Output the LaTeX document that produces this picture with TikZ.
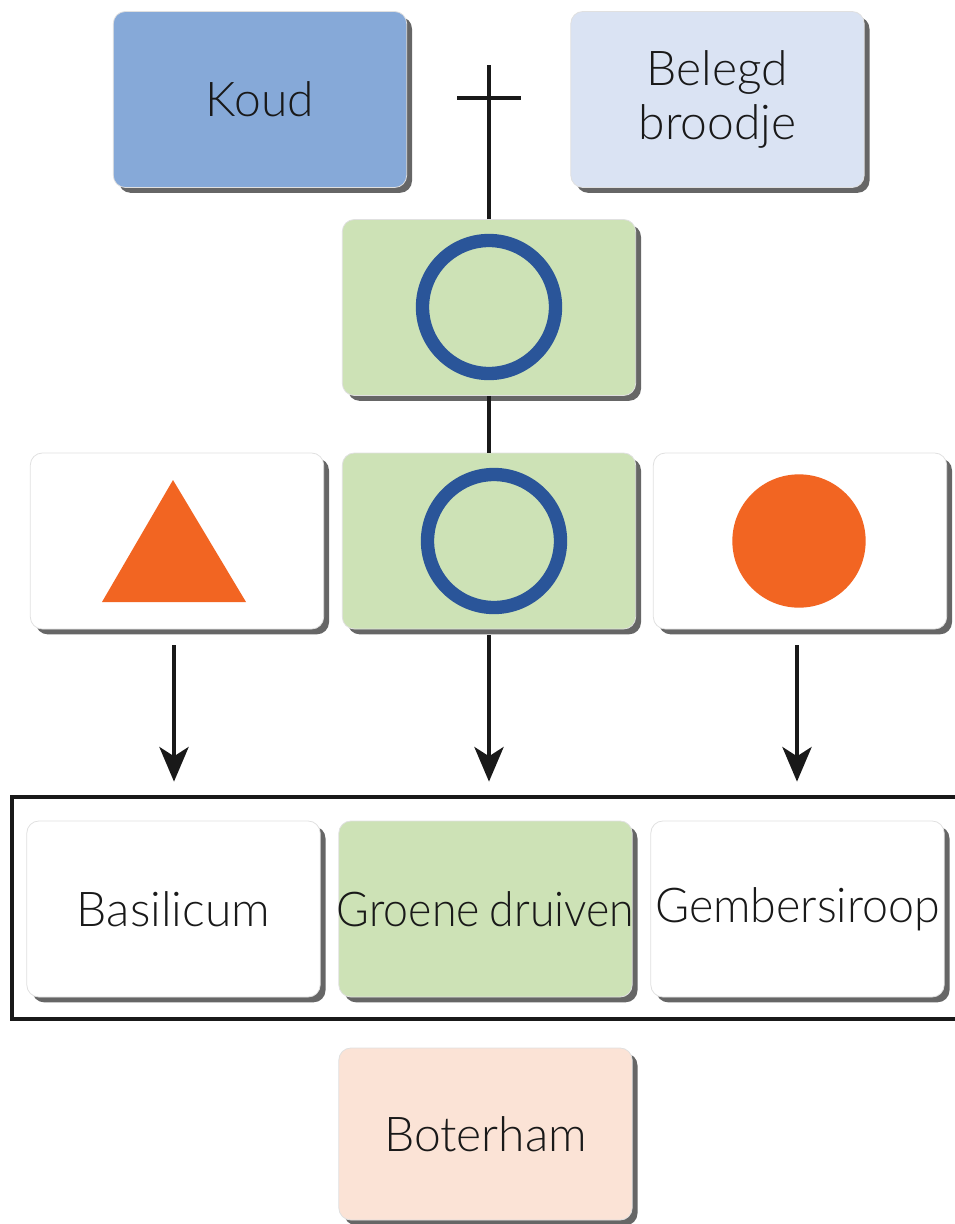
\documentclass[tikz,border=0pt]{standalone}
\usepackage{fontspec}
\setmainfont{Lato}[UprightFont=* Light]
\usetikzlibrary{shadows,arrows.meta,calc}
\definecolor{koudblue}{HTML}{86A9D8}
\definecolor{lightblue}{HTML}{DAE3F3}
\definecolor{lgreen}{HTML}{CDE2B6}
\definecolor{ringblue}{HTML}{2A5599}
\definecolor{orng}{HTML}{F26522}
\definecolor{peach}{HTML}{FBE3D6}
\definecolor{shad}{HTML}{666666}
\tikzset{
  box/.style={draw=black!12, line width=0.6pt, rounded corners=9pt, minimum width=220pt, minimum height=132pt,
    inner sep=0pt, align=center, text=black!90,
    font=\fontsize{36pt}{41pt}\selectfont,
    drop shadow={shadow xshift=4pt, shadow yshift=-4pt, fill=shad, opacity=1}},
  ring/.style={draw=ringblue, line width=10pt, circle, minimum size=99.75pt, inner sep=0pt},
  ln/.style={line width=2.3pt, black!90},
  arr/.style={line width=2.3pt, black!90, -{Stealth[length=26pt, width=22pt, inset=7pt]}},
}
\begin{document}
\begin{tikzpicture}[x=0.75pt, y=-0.75pt]
\useasboundingbox (0,0) rectangle (954,1224);
% top row
\node[box, fill=koudblue] (koud) at (260,99.5) {Koud};
\node[box, fill=lightblue] (beleg) at (717.5,99.5) {\raisebox{-3pt}{Belegd}\\\raisebox{-3pt}{broodje}};
% green top box
\node[box, fill=lgreen] (g1) at (489,307.5) {};
\node[ring] (r1) at (489,307) {};
% cross
\coordinate (ctop) at (489,65);
\coordinate (bl) at (457,98);
\coordinate (br) at (521,98);
\draw[ln] (g1.north) -- (ctop);
\draw[ln] (bl) -- (br);
% middle row
\node[box, fill=white] (mL) at (177,541) {};
\node[box, fill=lgreen] (mM) at (489,541) {};
\node[box, fill=white] (mR) at (800,541) {};
\draw[ln] (g1.south) -- (mM.north);
\fill[orng] (173,480) -- (246,602) -- (102,602) -- cycle;
\node[ring] (r2) at (494,541) {};
\node[circle, fill=orng, minimum size=100pt, inner sep=0pt] (dot) at (799,541) {};
% frame
\draw[line width=2.3pt, black!90] (12,797) rectangle (960,1019);
% bottom row
\node[box, fill=white] (bL) at (173.5,909) {Basilicum};
\node[box, fill=lgreen] (bM) at (485.5,909) {\makebox[0pt][c]{\scalebox{0.93}[1]{Groene\hspace{0.22em}druiven}}};
\node[box, fill=white] (bR) at (797.5,909) {\makebox[0pt][c]{\scalebox{0.97}[1]{Gembersiroop}}};
% arrows
\draw[arr] ($(mL.south)+(-3,16)$) -- ($(mL.south |- bL.north)+(-3,-39)$);
\draw[arr] ($(mM.south)+(0,6)$) -- ($(mM.south |- bM.north)+(0,-39)$);
\draw[arr] ($(mR.south)+(-3,16)$) -- ($(mR.south |- bR.north)+(-3,-39)$);
% boterham
\node[box, fill=peach, minimum height=129pt] (bot) at (485.5,1134) {Boterham};
\end{tikzpicture}
\end{document}
